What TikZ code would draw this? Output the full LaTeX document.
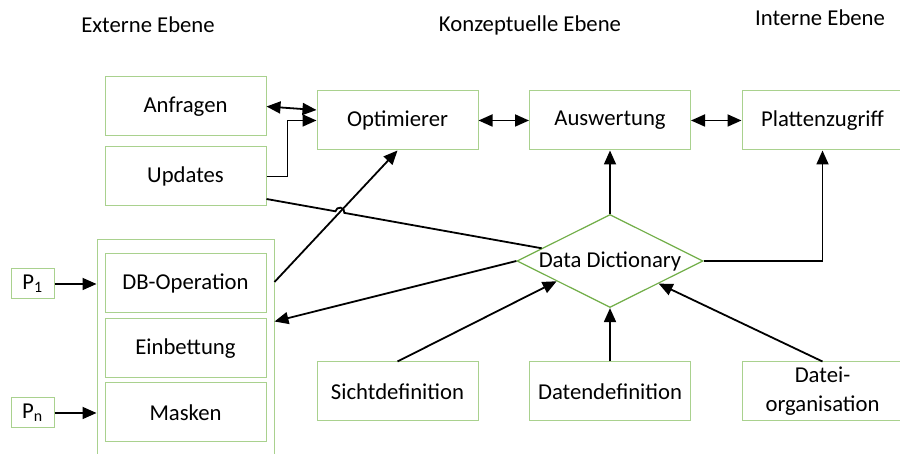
\documentclass[tikz,border=0pt]{standalone}
\usepackage{fontspec}
\setmainfont{Carlito}
\usetikzlibrary{arrows.meta,shapes.geometric,calc}
\definecolor{boxgreen}{RGB}{169,209,142}
\definecolor{ddgreen}{RGB}{112,173,71}
\begin{document}
\begin{tikzpicture}[x=1pt,y=1pt,
  every node/.style={font=\fontsize{22.7}{29}\selectfont},
  box/.style={draw=boxgreen,line width=1pt,minimum width=161pt,minimum height=59pt,inner sep=0pt,align=center},
  pbox/.style={draw=boxgreen,line width=1pt,minimum width=43pt,minimum height=30pt,inner sep=0pt},
  title/.style={inner sep=0pt},
  conn/.style={line width=1.8pt,black},
  tip/.style={-{Triangle[length=14pt,width=12pt]}},
  dtip/.style={{Triangle[length=14pt,width=12pt]}-{Triangle[length=14pt,width=12pt]}}
]
\useasboundingbox (0,0) rectangle (900,454);
% titles
\node[title] (t1) at (148,429) {Externe Ebene};
\node[title] (t2) at (530,429) {Konzeptuelle Ebene};
\node[title] (t3) at (820,436) {Interne Ebene};
% group box (open at bottom, clipped)
\node[draw=boxgreen,line width=1pt,minimum width=177pt,minimum height=240pt,inner sep=0pt] (grp) at (185.5,94) {};
% boxes
\node[box] (anf) at (185.5,347.5) {Anfragen};
\node[box] (upd) at (185.5,277.5) {Updates};
\node[box] (opt) at (397.5,333.5) {Optimierer};
\node[box] (aus) at (610,333.5) {Auswertung};
\node[box] (pla) at (822.5,333.5) {Plattenzugriff};
\node[box] (dbo) at (185.5,170.5) {DB-Operation};
\node[box] (ein) at (185.5,105.5) {Einbettung};
\node[box] (mas) at (185.5,41.5) {Masken};
\node[pbox] (p1) at (32.5,170) {P\textsubscript{1}};
\node[pbox] (pn) at (32.5,41) {P\textsubscript{n}};
\node[box] (sic) at (397.5,62.5) {Sichtdefinition};
\node[box] (dat) at (610,62.5) {Datendefinition};
\node[box] (dor) at (822.5,62.5) {Datei-\\organisation};
\node[diamond,draw=ddgreen,line width=1.2pt,aspect=2,minimum width=186pt,minimum height=93pt,inner sep=0pt] (dd) at (610,193) {Data Dictionary};
% connectors
\draw[conn,dtip] (anf.east) -- ([yshift=10.5pt]opt.west);
\draw[conn,tip] (upd.east) -- ++(21,0) |- (opt.west);
\draw[conn,dtip] (opt.east) -- (aus.west);
\draw[conn,dtip] (aus.east) -- (pla.west);
\draw[conn,tip] (dd.north) -- (aus.south);
\draw[conn,tip] (dd.east) -| (pla.south);
\coordinate (dbs) at ([yshift=1.5pt]dbo.east -| grp.east);
\draw[conn,tip] (dbs) -- (opt.south);
\coordinate (us) at ([yshift=-22.5pt]upd.east);
\coordinate (ue) at ($(dd.west)!0.27!(dd.north)$);
\coordinate (X) at (intersection of us--ue and dbs--opt.south);
\draw[conn] (us) -- ($(X)!4.5pt!(us)$) arc[start angle=169.9,end angle=-10.1,radius=4.5pt] -- (ue);
\draw[conn,tip] (dd.west) -- ([yshift=-3pt]ein.north -| grp.east);
\draw[conn,tip] (sic.north) -- ($(dd.west)!0.43!(dd.south)$);
\draw[conn,tip] (dat.north) -- (dd.south);
\draw[conn,tip] (dor.north) -- ($(dd.south)!0.52!(dd.east)$);
\draw[conn,tip] (p1.east) -- (p1.east -| grp.west);
\draw[conn,tip] (pn.east) -- (pn.east -| grp.west);
\end{tikzpicture}
\end{document}
